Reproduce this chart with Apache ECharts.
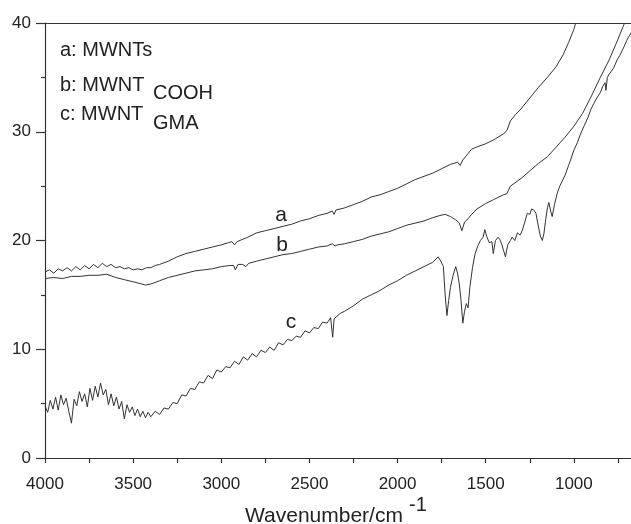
<!DOCTYPE html>
<html>
<head>
<meta charset="utf-8">
<script src="https://cdn.jsdelivr.net/npm/echarts@6/dist/echarts.min.js"></script>
<style>
  html, body { margin: 0; padding: 0; background: #fff; }
  #chart { width: 631px; height: 524px; }
</style>
</head>
<body>
<div id="chart"></div>
<script>
// FTIR transmittance spectra of the three nanotube samples

// a: MWNTs
const wnA = [4000, 3975, 3950, 3925, 3900, 3875, 3850, 3825, 3800, 3775, 3750, 3725, 3700, 3675, 3650, 3625, 3600, 3575, 3550, 3525, 3500, 3475, 3450, 3425, 3400, 3375, 3350, 3300, 3250, 3200, 3150, 3100, 3050, 3000, 2960, 2940, 2925, 2910, 2850, 2800, 2750, 2700, 2650, 2600, 2550, 2500, 2450, 2400, 2370, 2360, 2350, 2300, 2250, 2200, 2150, 2100, 2050, 2000, 1950, 1900, 1850, 1800, 1750, 1700, 1680, 1660, 1645, 1630, 1600, 1580, 1550, 1500, 1450, 1400, 1380, 1360, 1330, 1300, 1250, 1200, 1150, 1100, 1060, 1030, 1000, 990];
const valA = [17.1, 17.3, 17.0, 17.4, 17.2, 17.5, 17.2, 17.6, 17.3, 17.7, 17.4, 17.8, 17.5, 17.9, 17.6, 17.8, 17.5, 17.6, 17.4, 17.5, 17.3, 17.4, 17.3, 17.5, 17.5, 17.7, 17.8, 18.1, 18.5, 18.8, 19.0, 19.2, 19.4, 19.6, 19.8, 19.9, 19.6, 19.9, 20.3, 20.7, 20.9, 21.1, 21.3, 21.5, 21.8, 22.0, 22.3, 22.5, 22.7, 22.4, 22.8, 23.0, 23.3, 23.6, 24.0, 24.2, 24.5, 24.8, 25.2, 25.6, 25.9, 26.2, 26.6, 27.0, 27.1, 27.2, 26.9, 27.4, 28.0, 28.4, 28.6, 28.9, 29.3, 29.8, 30.1, 31.0, 31.6, 32.1, 33.1, 34.1, 35.0, 36.0, 37.1, 38.2, 39.4, 40.0];

// b: MWNT-COOH
const wnB = [4000, 3950, 3900, 3850, 3800, 3750, 3700, 3650, 3600, 3550, 3500, 3450, 3430, 3400, 3350, 3300, 3250, 3200, 3150, 3100, 3050, 3000, 2950, 2930, 2920, 2905, 2880, 2860, 2845, 2800, 2750, 2700, 2650, 2600, 2550, 2500, 2450, 2400, 2370, 2355, 2340, 2300, 2250, 2200, 2150, 2100, 2050, 2000, 1950, 1900, 1850, 1800, 1760, 1730, 1700, 1670, 1650, 1635, 1620, 1600, 1580, 1550, 1500, 1450, 1400, 1380, 1360, 1300, 1250, 1200, 1150, 1100, 1050, 1000, 950, 900, 850, 800, 760, 720, 712];
const valB = [16.5, 16.6, 16.5, 16.7, 16.7, 16.8, 16.8, 16.9, 16.6, 16.4, 16.2, 16.0, 15.9, 16.0, 16.3, 16.6, 16.8, 17.0, 17.2, 17.3, 17.4, 17.6, 17.7, 17.7, 17.3, 17.8, 17.8, 17.6, 17.9, 18.1, 18.3, 18.5, 18.7, 18.8, 19.0, 19.2, 19.4, 19.5, 19.7, 19.5, 19.6, 19.7, 19.9, 20.1, 20.4, 20.6, 20.8, 21.1, 21.4, 21.6, 21.8, 22.1, 22.3, 22.4, 22.2, 21.9, 21.6, 20.9, 21.7, 22.0, 22.4, 22.9, 23.4, 23.8, 24.2, 24.3, 25.0, 25.7, 26.4, 27.1, 27.7, 28.6, 29.5, 30.5, 31.7, 33.3, 35.0, 36.6, 38.1, 39.7, 40.0];

// c: MWNT-GMA
const wnC = [4000, 3985, 3970, 3955, 3940, 3925, 3910, 3895, 3880, 3865, 3850, 3835, 3820, 3805, 3790, 3775, 3760, 3745, 3730, 3715, 3700, 3685, 3670, 3655, 3640, 3625, 3610, 3595, 3580, 3565, 3550, 3535, 3520, 3505, 3490, 3475, 3460, 3445, 3430, 3415, 3400,
  3375, 3350, 3325, 3300, 3275, 3250, 3225, 3200, 3175, 3150, 3125, 3100, 3075, 3050, 3025, 3000, 2975, 2950, 2925, 2900, 2875, 2850, 2825, 2800, 2775, 2750, 2725, 2700, 2675, 2650, 2625, 2600, 2575, 2550, 2525, 2500, 2475, 2450, 2425, 2400,
  2380, 2368, 2360, 2325, 2300, 2250, 2200, 2150, 2100, 2050, 2000, 1950, 1900, 1850, 1800, 1770, 1755, 1740, 1730, 1720, 1710, 1700, 1685, 1670, 1660, 1650, 1640, 1630, 1620, 1610, 1600, 1590, 1575, 1560, 1545, 1530, 1515, 1505, 1495, 1480, 1465, 1457, 1445, 1430, 1420, 1410, 1400, 1388, 1375, 1360, 1350, 1335, 1320, 1305, 1293, 1280, 1264, 1250, 1240, 1227, 1215, 1205, 1190, 1179, 1170, 1160, 1150, 1142, 1133, 1123, 1110, 1095, 1080, 1070, 1050, 1030, 1019, 1000, 980, 962, 940, 920, 905, 887, 870, 850, 835, 823, 818, 810, 800, 790, 773, 755, 740, 725, 716, 700, 690, 678, 672];
const valC = [4.8, 4.2, 5.3, 4.5, 5.6, 4.4, 5.8, 4.9, 5.5, 4.3, 3.2, 5.4, 4.8, 6.1, 5.2, 5.9, 4.7, 6.4, 5.3, 6.6, 5.6, 6.9, 5.8, 6.3, 4.9, 5.9, 4.8, 5.6, 4.5, 5.2, 3.6, 4.9, 4.2, 4.7, 3.9, 4.5, 3.8, 4.3, 3.7, 4.2, 3.8,
  4.3, 4.0, 4.6, 4.5, 5.1, 5.0, 5.8, 5.7, 6.4, 6.3, 7.0, 6.9, 7.6, 7.3, 8.1, 7.9, 8.4, 8.3, 8.9, 8.6, 9.3, 9.0, 9.6, 9.3, 9.9, 9.7, 10.2, 9.9, 10.6, 10.4, 10.9, 10.8, 11.2, 11.1, 11.7, 11.5, 12.0, 11.9, 12.5, 12.4,
  12.9, 11.1, 12.8, 13.3, 13.5, 14.0, 14.6, 15.0, 15.4, 15.9, 16.3, 16.8, 17.2, 17.6, 18.0, 18.5, 18.1, 17.6, 15.0, 13.1, 14.5, 15.7, 16.8, 17.6, 17.0, 16.0, 14.5, 12.4, 13.5, 14.2, 13.8, 15.7, 17.5, 18.8, 19.5, 20.0, 20.3, 21.0, 20.4, 19.8, 19.9, 18.8, 20.0, 20.3, 20.1, 19.7, 19.8, 18.5, 19.6, 20.0, 20.3, 20.0, 20.7, 20.5, 20.9, 21.6, 22.5, 22.4, 22.9, 22.8, 22.5, 21.6, 20.4, 20.0, 20.6, 21.9, 23.0, 23.5, 22.8, 22.2, 23.3, 24.3, 25.0, 25.1, 26.0, 26.9, 27.4, 28.3, 29.0, 29.8, 30.6, 31.3, 32.0, 32.6, 33.1, 33.6, 34.2, 34.5, 33.8, 35.0, 35.3, 35.5, 35.9, 36.6, 37.0, 37.5, 37.8, 38.4, 38.7, 39.0, 39.2];

// axis ranges and ticks
const xRange = [500, 4000];
const xStep = 500;
const yRange = [0, 40];
const yStep = 10;

const pairs = (xs, ys) => xs.map((x, i) => [x, ys[i]]);

const FONT = "'Liberation Sans', Arial, Helvetica, sans-serif";
const INK = '#222';

const lineSeries = (name, xs, ys) => ({
  name,
  type: 'line',
  data: pairs(xs, ys),
  showSymbol: false,
  symbol: 'none',
  xAxisIndex: 0,
  yAxisIndex: 0,
  lineStyle: { color: '#333', width: 1 },
  clip: true
});

const chart = echarts.init(document.getElementById('chart'), null, { renderer: 'canvas' });

// text placed by its baseline: top of the line box sits about 0.8 em above it
const txt = (text, x, baseline, size, align) => ({
  type: 'text',
  x, y: baseline - Math.round(size * 0.8),
  style: { text, font: size + 'px ' + FONT, fill: INK, align: align || 'left', verticalAlign: 'top' }
});

chart.setOption({
  animation: false,
  backgroundColor: '#fff',
  grid: { left: 45, top: 23, right: -31, bottom: 66, containLabel: false, outerBoundsMode: 'none' },
  xAxis: [{
    type: 'value',
    inverse: true,
    min: xRange[0], max: xRange[1], interval: xStep,
    position: 'bottom',
    axisLine: { show: true, lineStyle: { color: '#333', width: 1.2 } },
    axisTick: { show: true, inside: false, length: 5, lineStyle: { color: '#333', width: 1.2 } },
    minorTick: { show: true, splitNumber: 2, length: 5, lineStyle: { color: '#333', width: 1.2 } },
    axisLabel: { show: true, fontSize: 17, fontFamily: FONT, color: INK, margin: 18, formatter: (v) => String(v) },
    splitLine: { show: false }
  }, {
    type: 'value',
    inverse: true,
    min: xRange[0], max: xRange[1],
    position: 'top',
    axisLine: { show: true, onZero: false, lineStyle: { color: '#333', width: 1.2 } },
    axisTick: { show: false },
    axisLabel: { show: false },
    splitLine: { show: false }
  }],
  yAxis: {
    type: 'value',
    min: yRange[0], max: yRange[1], interval: yStep,
    axisLine: { show: true, lineStyle: { color: '#333', width: 1.2 } },
    axisTick: { show: true, inside: false, length: 9, lineStyle: { color: '#333', width: 1.2 } },
    minorTick: { show: true, splitNumber: 2, length: 4, lineStyle: { color: '#333', width: 1.2 } },
    axisLabel: { show: true, fontSize: 17, fontFamily: FONT, color: INK, margin: 14, formatter: (v) => String(v) },
    splitLine: { show: false }
  },
  series: [
    lineSeries('a', wnA, valA),
    lineSeries('b', wnB, valB),
    lineSeries('c', wnC, valC)
  ],
  graphic: [
    // sample key, top left
    txt('a: MWNTs', 60, 56, 20),
    txt('b: MWNT', 60, 91, 20),
    txt('COOH', 153, 99, 20),
    txt('c: MWNT', 60, 120, 20),
    txt('GMA', 153, 129, 20),
    // curve tags
    txt('a', 281, 222, 21, 'center'),
    txt('b', 282, 252, 21, 'center'),
    txt('c', 291, 329, 21, 'center'),
    // x axis title with superscript
    txt('Wavenumber/cm', 245, 523, 21),
    txt('-1', 409, 511, 20)
  ]
});
</script>
</body>
</html>
